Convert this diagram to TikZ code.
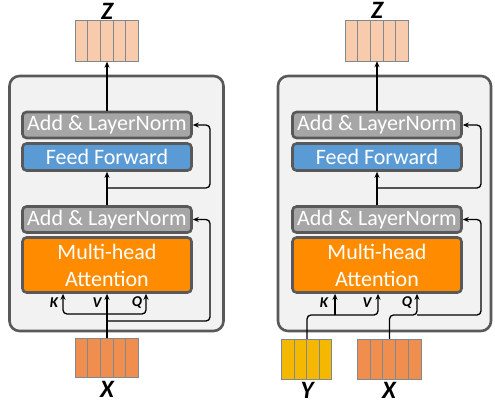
\documentclass[tikz,border=0pt]{standalone}
\usepackage{fontspec}
\setmainfont{Carlito}
\usetikzlibrary{arrows.meta}
\definecolor{outerfill}{HTML}{F2F2F2}
\definecolor{darkline}{HTML}{595959}
\definecolor{addfill}{HTML}{A6A6A6}
\definecolor{fffill}{HTML}{5B9BD5}
\definecolor{mhafill}{HTML}{FF8C00}
\definecolor{zfill}{HTML}{F8CBAD}
\definecolor{xfill}{HTML}{EF8E4E}
\definecolor{yfill}{HTML}{F5B800}
\definecolor{barline}{HTML}{808890}
\tikzset{
  outerbox/.style={draw=darkline, fill=outerfill, line width=2.6pt, rounded corners=10pt},
  block/.style={draw=darkline, line width=2.6pt, rounded corners=4pt, text=white, inner sep=0pt,
     minimum width=169pt, font=\fontsize{22}{27}\selectfont, align=center},
  addbox/.style={block, fill=addfill, minimum height=26pt},
  ffbox/.style={block, fill=fffill, minimum height=27pt},
  mhabox/.style={block, fill=mhafill, minimum height=55pt},
  group/.style={draw=none, inner sep=0pt, minimum height=40pt},
  bar/.style={draw=barline, line width=0.9pt},
  conn/.style={black, line width=1.3pt, rounded corners=4pt},
  arr/.style={conn, -{Stealth[length=6pt,width=5pt]}},
  kvq/.style={font=\fontsize{15}{15}\selectfont\bfseries\itshape, inner sep=0pt},
  big/.style={font=\fontsize{25}{25}\selectfont\bfseries\itshape, inner sep=0pt},
}
\begin{document}
\begin{tikzpicture}[x=1pt, y=-1pt]
\useasboundingbox (0,0) rectangle (495,404);

% ================= LEFT =================
\node[outerbox, minimum width=214pt, minimum height=255pt] (lo) at (116.5,203.5) {};
\node[addbox] (la1) at (107,125) {Add \& LayerNorm};
\node[ffbox] (lff) at (107,157) {Feed Forward};
\node[addbox] (la2) at (107,219.5) {Add \& LayerNorm};
\node[mhabox] (lmha) at (107,265) {Multi-head\\Attention};

% Z bars left
\node[group, minimum width=63pt] (lz) at (107,41.5) {};
\foreach \i in {0,...,4} \draw[bar, fill=zfill] ([xshift=\i*12.6pt]lz.south west) rectangle ++(12.6,-41);
\node[big] (lzl) at (107,11) {Z};
% X bars left
\node[group, minimum width=63pt] (lx) at (107,357.5) {};
\foreach \i in {0,...,4} \draw[bar, fill=xfill] ([xshift=\i*12.6pt]lx.south west) rectangle ++(12.6,-39);
\node[big] (lxl) at (107,389) {X};

% connectors left
\coordinate (lxs) at (lx.north |- 0,338);
\draw[arr] (lxs) -- (lxs |- lmha.south);
\coordinate (lb) at (107,314);
\draw[arr] (lb) -| ([xshift=-44pt]lmha.south);
\draw[arr] (lb) -| ([xshift=39pt]lmha.south);
\coordinate (lr2) at (107,321);
\draw[arr] (lr2) -- (210,321) |- (la2.east);
\draw[arr] (la2.north) -- (lff.south);
\coordinate (lr1) at (107,188);
\draw[arr] (lr1) -- (210,188) |- (la1.east);
\draw[arr] (la1.north) -- (lz.south);
\node[kvq] (lk) at (54,303) {K};
\node[kvq] (lv) at (97,303) {V};
\node[kvq] (lq) at (137,303) {Q};

% ================= RIGHT =================
\node[outerbox, minimum width=213pt, minimum height=255pt] (ro) at (384.5,203.5) {};
\node[addbox] (ra1) at (377,125) {Add \& LayerNorm};
\node[ffbox] (rff) at (377,157) {Feed Forward};
\node[addbox] (ra2) at (377,219.5) {Add \& LayerNorm};
\node[mhabox] (rmha) at (377,265) {Multi-head\\Attention};

\node[group, minimum width=63pt] (rz) at (377,41) {};
\foreach \i in {0,...,4} \draw[bar, fill=zfill] ([xshift=\i*12.6pt]rz.south west) rectangle ++(12.6,-41);
\node[big] (rzl) at (377,10) {Z};

\node[group, minimum width=50pt] (ry) at (307,359) {};
\foreach \i in {0,...,3} \draw[bar, fill=yfill] ([xshift=\i*12.5pt]ry.south west) rectangle ++(12.5,-40);
\node[big] (ryl) at (307,390) {Y};

\node[group, minimum width=64pt] (rx) at (389.5,359) {};
\foreach \i in {0,...,4} \draw[bar, fill=xfill] ([xshift=\i*12.8pt]rx.south west) rectangle ++(12.8,-40);
\node[big] (rxl) at (389,390) {X};

% connectors right
\coordinate (rys) at (ry.north);
\coordinate (rv) at (378,315);
\draw[arr] (rys) |- (rv) -- (rv |- rmha.south);
\coordinate (rk) at (335,315);
\draw[arr] (rk) -- (rk |- rmha.south);
\coordinate (rxs) at (rx.north);
\coordinate (rq) at (417,315);
\draw[arr] (rxs) |- (rq) -- (rq |- rmha.south);
\draw[arr] (rq) -- (481,315) |- (ra2.east);
\draw[arr] (ra2.north) -- (rff.south);
\coordinate (rr1) at (377,188);
\draw[arr] (rr1) -- (481,188) |- (ra1.east);
\draw[arr] (ra1.north) -- (rz.south);
\node[kvq] (rkl) at (324,303) {K};
\node[kvq] (rvl) at (367,303) {V};
\node[kvq] (rql) at (407,303) {Q};
\end{tikzpicture}
\end{document}
